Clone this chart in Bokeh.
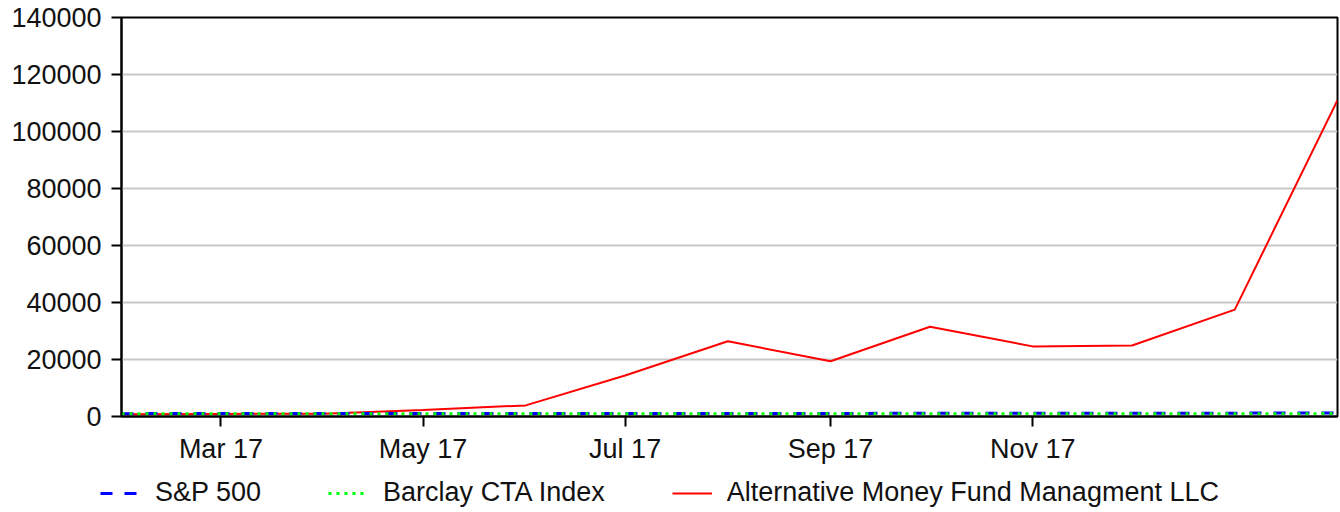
from datetime import datetime
import pandas as pd
from bokeh.plotting import figure
from bokeh.layouts import column
from bokeh.models import (ColumnDataSource, Legend, LegendItem, FixedTicker,
                          Range1d, DatetimeTickFormatter)
from bokeh.embed import file_html
from bokeh.resources import INLINE

# ---- data ----
dates = ["2017-01-30", "2017-03-01", "2017-04-01", "2017-05-01", "2017-06-01",
         "2017-07-01", "2017-08-01", "2017-09-01", "2017-10-01", "2017-11-01",
         "2017-12-01", "2018-01-01", "2018-02-01"]
sp500 = [1000, 1039, 1038, 1047, 1059, 1065, 1085, 1088, 1109, 1136, 1167, 1178, 1245]
barclay = [1000, 1004, 998, 995, 996, 990, 993, 997, 994, 998, 1002, 1004, 1010]
amfm = [800, 900, 1000, 2300, 3900, 14400, 26400, 19400, 31500, 24600, 24900, 37500, 111000]

x_ticks = ["2017-03-01", "2017-05-01", "2017-07-01", "2017-09-01", "2017-11-01"]
y_ticks = [0, 20000, 40000, 60000, 80000, 100000, 120000, 140000]
series_names = ["S&P 500", "Barclay CTA Index", "Alternative Money Fund Managment LLC"]

FONT = "Liberation Sans"
FS = "27px"

src = ColumnDataSource(dict(x=pd.to_datetime(dates), sp=sp500, bc=barclay, am=amfm))

STY = dict(
    am=dict(line_color="#ff0000", line_width=2),
    sp=dict(line_color="#0000ff", line_width=3, line_dash="12 12"),
    bc=dict(line_color="#00ff00", line_width=3, line_dash="3 5"),
)

p = figure(width=1340, height=466, output_backend="svg", toolbar_location=None,
           x_axis_type="datetime",
           x_range=Range1d(datetime(2017, 1, 30), datetime(2018, 2, 1)),
           y_range=Range1d(0, 140000),
           min_border_left=121, min_border_right=3, min_border_top=17,
           min_border_bottom=49)
p.frame_align = False

p.line("x", "am", source=src, **STY["am"])
p.line("x", "sp", source=src, **STY["sp"])
p.line("x", "bc", source=src, **STY["bc"])

p.outline_line_color = "black"
p.outline_line_width = 2
p.xgrid.grid_line_color = None
p.ygrid.grid_line_color = "#c8c8c8"
p.ygrid.grid_line_width = 2

tick_ms = [pd.Timestamp(t).value / 1e6 for t in x_ticks]
p.xaxis.ticker = FixedTicker(ticks=tick_ms)
p.xaxis.formatter = DatetimeTickFormatter(days="%b %y", months="%b %y", years="%b %y",
                                          hours="%b %y", context=None)
p.yaxis.ticker = FixedTicker(ticks=y_ticks)
p.yaxis.formatter.use_scientific = False

for ax in (p.xaxis, p.yaxis):
    ax.axis_line_color = "black"
    ax.axis_line_width = 2
    ax.major_tick_line_color = "black"
    ax.major_tick_line_width = 2
    ax.major_tick_out = 10
    ax.major_tick_in = 0
    ax.minor_tick_line_color = None
    ax.major_label_text_font = FONT
    ax.major_label_text_font_size = FS
    ax.major_label_text_color = "#111111"
p.xaxis.major_label_standoff = 7
p.yaxis.major_label_standoff = 10

# ---- legend strip (a second figure; its lines lie outside its view) ----
q = figure(width=1340, height=46, output_backend="svg", toolbar_location=None,
           x_range=Range1d(0, 1), y_range=Range1d(0, 1),
           x_axis_location=None, y_axis_location=None,
           min_border_left=0, min_border_right=0, min_border_top=0,
           min_border_bottom=0)
q.frame_align = False
q.outline_line_color = None
q.grid.grid_line_color = None
l_sp = q.line("x", "sp", source=src, **STY["sp"])
l_bc = q.line("x", "bc", source=src, **STY["bc"])
l_am = q.line("x", "am", source=src, **STY["am"])

legend = Legend(items=[LegendItem(label=series_names[0], renderers=[l_sp]),
                       LegendItem(label=series_names[1], renderers=[l_bc]),
                       LegendItem(label=series_names[2], renderers=[l_am])],
                orientation="horizontal", location=(100, 4),
                glyph_width=40, label_standoff=15, spacing=67,
                padding=0, margin=0, border_line_color=None,
                background_fill_alpha=0,
                label_text_font=FONT, label_text_font_size=FS,
                label_text_color="#111111")
q.add_layout(legend, "center")

open("out.html", "w").write(file_html(column(p, q, spacing=0), INLINE))
